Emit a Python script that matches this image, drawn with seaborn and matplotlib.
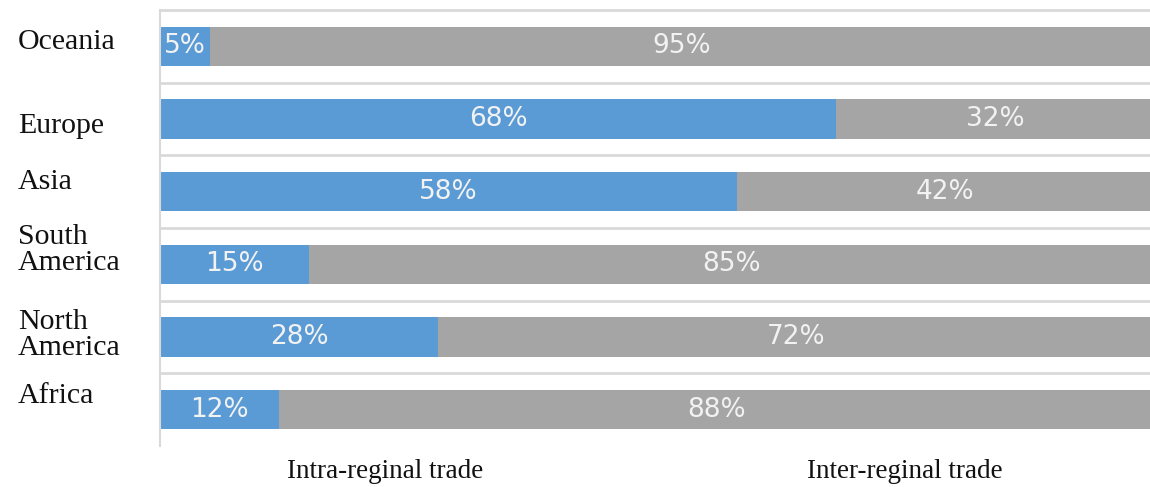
import matplotlib
matplotlib.use("Agg")
import matplotlib.pyplot as plt
import seaborn as sns
import pandas as pd

regions = ["Oceania", "Europe", "Asia", "South\nAmerica", "North\nAmerica", "Africa"]
intra = [5, 68, 58, 15, 28, 12]
inter = [95, 32, 42, 85, 72, 88]
legend_labels = ["Intra-reginal trade", "Inter-reginal trade"]

# layout: vertical nudge (pixels, + = down) of each category label vs. bar centre
label_dy_px = [-4, 7, -10, -14, -2, -14]

blue = "#5B9BD5"
gray = "#A5A5A5"
grid_c = "#D9D9D9"

sns.set_theme(style="white")
plt.rcParams["font.family"] = ["Liberation Serif", "DejaVu Serif"]

df = pd.DataFrame({"region": regions, "intra": intra, "inter": inter})
df["total"] = df["intra"] + df["inter"]

W, H = 1150, 487
fig = plt.figure(figsize=(W / 100, H / 100), dpi=100)
ax = fig.add_axes([160 / W, 1 - 446 / H, 994 / W, 436 / H])

sns.barplot(data=df, y="region", x="total", color=gray, orient="h", width=0.54,
            saturation=1, ax=ax, order=regions, linewidth=0, edgecolor="none")
sns.barplot(data=df, y="region", x="intra", color=blue, orient="h", width=0.54,
            saturation=1, ax=ax, order=regions, linewidth=0, edgecolor="none")

ax.set_xlim(0, 100)
ax.set_ylim(len(regions) - 0.5, -0.5)
ax.set_xlabel("")
ax.set_ylabel("")
ax.set_xticks([])
ax.set_yticks(range(len(regions)))
ax.set_yticklabels([])
ax.tick_params(left=False, bottom=False)

for s in ["top", "right", "bottom"]:
    ax.spines[s].set_visible(False)
ax.spines["left"].set_color(grid_c)
ax.spines["left"].set_linewidth(1.5)

for b in [i - 0.5 for i in range(len(regions))]:
    ax.axhline(b, color=grid_c, lw=2, zorder=0, clip_on=False)

for i, (a, e) in enumerate(zip(intra, inter)):
    ax.text(a / 2, i, f"{a}%", ha="center", va="center", color="#F2F2F2",
            fontsize=19, family="DejaVu Sans")
    ax.text(a + e / 2, i, f"{e}%", ha="center", va="center", color="#F2F2F2",
            fontsize=19, family="DejaVu Sans")

fig.canvas.draw()
for i, r in enumerate(regions):
    y_disp = ax.transData.transform((0, i))[1] - label_dy_px[i]
    fig.text(18 / W, y_disp / H, r, ha="left", va="center", fontsize=21.5,
             color="#111111", linespacing=1.0)

fig.text(385 / W, 1 - 472 / H, legend_labels[0], ha="center", va="center",
         fontsize=19.5, color="#111111")
fig.text(905 / W, 1 - 472 / H, legend_labels[1], ha="center", va="center",
         fontsize=19.5, color="#111111")

fig.savefig("out.png", dpi=100)
